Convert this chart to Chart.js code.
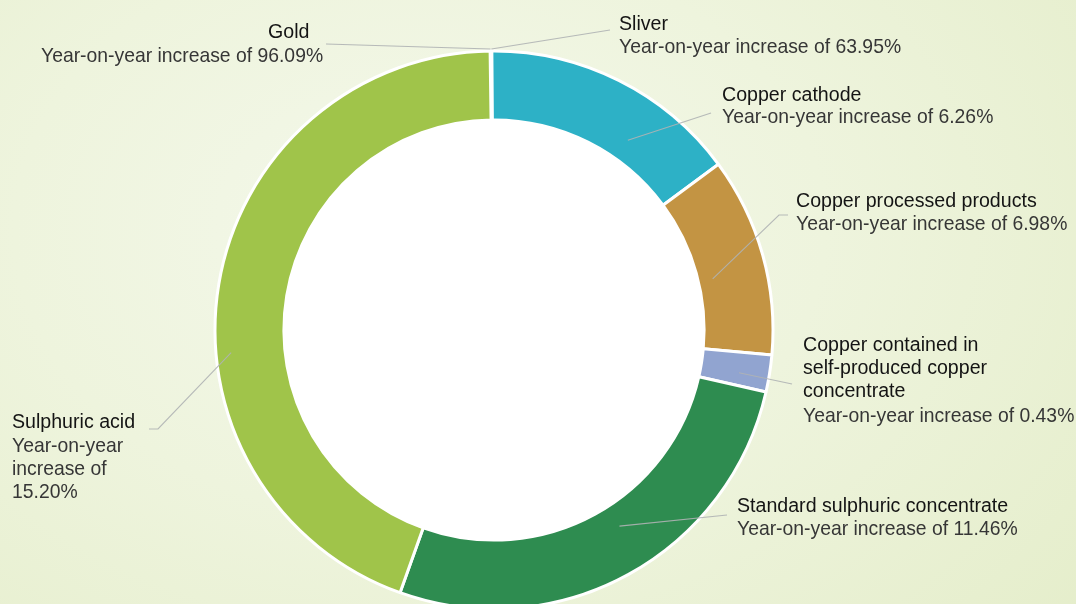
<!DOCTYPE html>
<html>
<head>
<meta charset="utf-8">
<script src="https://cdn.jsdelivr.net/npm/chart.js@4.4.1/dist/chart.umd.min.js"></script>
<style>
    html, body { margin: 0; padding: 0; }
    body {
        width: 1076px;
        height: 604px;
        overflow: hidden;
        background: radial-gradient(ellipse 900px 650px at 420px 230px, #f4f8eb 0%, #eef4dd 45%, #e4edc9 100%);
    }
    #wrap { position: relative; width: 1076px; height: 604px; }
</style>
</head>
<body>
<div id="wrap"><canvas id="productChart" width="1076" height="604"></canvas></div>
<script>
// products, clockwise from the top
const products = ['Gold', 'Sliver', 'Copper cathode', 'Copper processed products',
    'Copper contained in self-produced copper concentrate', 'Standard sulphuric concentrate', 'Sulphuric acid'];
// share of the ring (%)
const shares = [0.05, 0.05, 15.0, 11.55, 2.14, 26.9, 44.31];
const growth = ['96.09%', '63.95%', '6.26%', '6.98%', '0.43%', '11.46%', '15.20%'];
const sliceColors = ['#d9b44a', '#c9ccd0', '#2db1c6', '#c39443', '#91a4d0', '#2e8c50', '#a0c44a'];

// label layout: title lines, subtitle lines, text x, first baseline, elbow points,
// anchor inside the slice (t = along the arc, r = across the ring)
const labelLayout = [
    { title: ['Gold'], titleX: 268, sub: ['Year-on-year increase of ' + growth[0]], x: 41, y: 38, subY: 62,
      path: [[326, 44]], anchor: { t: 0.5, r: 1.03 } },
    { title: ['Sliver'], sub: ['Year-on-year increase of ' + growth[1]], x: 619, y: 30, subY: 53,
      path: [[610, 30]], anchor: { t: 0.5, r: 1.03 } },
    { title: ['Copper cathode'], sub: ['Year-on-year increase of ' + growth[2]], x: 722, y: 101, subY: 123,
      path: [[711, 113]], anchor: { t: 0.66, r: 0.32 } },
    { title: ['Copper processed products'], sub: ['Year-on-year increase of ' + growth[3]], x: 796, y: 207, subY: 230,
      path: [[788, 215], [779, 215]], anchor: { t: 0.56, r: 0.21 } },
    { title: ['Copper contained in', 'self-produced copper', 'concentrate'], sub: ['Year-on-year increase of ' + growth[4]],
      x: 803, y: 351, subY: 422, path: [[792, 384]], anchor: { t: 0.62, r: 0.56 } },
    { title: ['Standard sulphuric concentrate'], sub: ['Year-on-year increase of ' + growth[5]], x: 737, y: 512, subY: 535,
      path: [[727, 515]], anchor: { t: 0.46, r: 0.33 } },
    { title: ['Sulphuric acid'], sub: ['Year-on-year', 'increase of', growth[6]], x: 12, y: 428, subY: 452,
      path: [[149, 429], [158, 429]], anchor: { t: 0.41, r: 0.78 } }
];

const TITLE_FONT = '19.6px "Liberation Sans", Arial, sans-serif';
const SUB_FONT = '19.35px "Liberation Sans", Arial, sans-serif';
const LINE_GAP = 23;

function anchorPoint(arc, a) {
    const p = arc.getProps(['x', 'y', 'startAngle', 'endAngle', 'innerRadius', 'outerRadius'], true);
    const ang = p.startAngle + (p.endAngle - p.startAngle) * a.t;
    const rad = p.innerRadius + (p.outerRadius - p.innerRadius) * a.r;
    return [p.x + Math.cos(ang) * rad, p.y + Math.sin(ang) * rad];
}

// white disc in the hole of the ring
const holePlugin = {
    id: 'hole',
    beforeDatasetsDraw(chart) {
        const arc = chart.getDatasetMeta(0).data[0];
        if (!arc) return;
        const p = arc.getProps(['x', 'y', 'innerRadius'], true);
        const ctx = chart.ctx;
        ctx.save();
        ctx.fillStyle = '#ffffff';
        ctx.beginPath();
        ctx.arc(p.x, p.y, p.innerRadius + 1, 0, Math.PI * 2);
        ctx.fill();
        ctx.restore();
    }
};

const calloutPlugin = {
    id: 'callouts',
    afterDatasetsDraw(chart) {
        const ctx = chart.ctx;
        const arcs = chart.getDatasetMeta(0).data;
        ctx.save();
        ctx.strokeStyle = 'rgba(175, 178, 180, 0.9)';
        ctx.lineWidth = 1.1;
        labelLayout.forEach((lab, i) => {
            const start = anchorPoint(arcs[i], lab.anchor);
            ctx.beginPath();
            ctx.moveTo(start[0], start[1]);
            lab.path.slice().reverse().forEach(pt => ctx.lineTo(pt[0], pt[1]));
            ctx.stroke();
        });

        ctx.textBaseline = 'alphabetic';
        ctx.textAlign = 'left';
        labelLayout.forEach(lab => {
            ctx.font = TITLE_FONT;
            ctx.fillStyle = '#141414';
            lab.title.forEach((line, k) => {
                ctx.fillText(line, lab.titleX !== undefined ? lab.titleX : lab.x, lab.y + k * LINE_GAP);
            });
            ctx.font = SUB_FONT;
            ctx.fillStyle = '#363636';
            lab.sub.forEach((line, k) => {
                ctx.fillText(line, lab.x, lab.subY + k * LINE_GAP);
            });
        });
        ctx.restore();
    }
};

new Chart(document.getElementById('productChart'), {
    type: 'doughnut',
    data: {
        labels: products,
        datasets: [{
            data: shares,
            backgroundColor: sliceColors,
            borderColor: '#ffffff',
            borderWidth: 3,
            hoverOffset: 0,
            clip: false
        }]
    },
    options: {
        responsive: false,
        animation: false,
        radius: 279,
        cutout: '75.3%',
        rotation: -0.8,
        layout: { padding: { left: 0, right: 88, top: 56, bottom: 0 } },
        plugins: {
            legend: { display: false },
            tooltip: { enabled: false }
        }
    },
    plugins: [holePlugin, calloutPlugin]
});
</script>
</body>
</html>
